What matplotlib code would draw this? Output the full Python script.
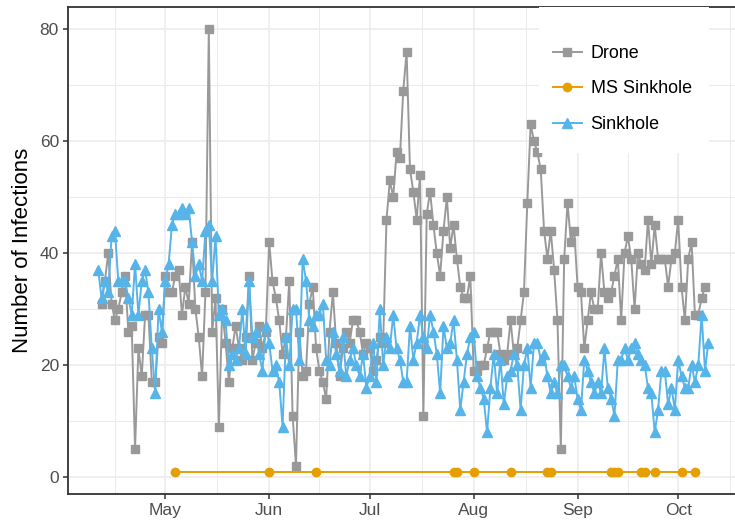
import matplotlib
matplotlib.use('Agg')
import matplotlib.pyplot as plt
import matplotlib.dates as mdates
from matplotlib.patches import Rectangle
import numpy as np
import pandas as pd

plt.rcParams['font.family'] = ['Liberation Sans', 'DejaVu Sans']

############## data ############################################################
start_date = '2019-04-11'

# Sinkhole, one value per day from Apr 11
sinkhole = [37, 32, 35, 33, 43, 44, 35, 35, 35, 32, 29, 38, 29, 35, 37, 33, 23,
            15, 30, 26, 35, 38, 45, 47, 47, 48, 47, 48, 42, 36, 38, 35, 44,
            45, 35, 43, 29, 30, 28, 20, 22, 21, 23, 30, 22, 35, 25, 26, 22, 19,
            27, 24, 19, 20, 17, 9, 25, 20, 30, 30, 21, 39, 35, 28, 27,
            29, 29, 31, 21, 20, 26, 22, 19, 25, 18, 21, 23, 20, 18, 22, 16, 18,
            24, 17, 30, 20, 25, 23, 29, 23, 21, 17, 17, 27, 21, 24, 29, 25,
            23, 29, 26, 22, 15, 27, 23, 24, 28, 21, 12, 17, 22, 25, 26, 18, 16,
            14, 8, 16, 22, 15, 21, 13, 18, 19, 22, 20, 12, 20, 23, 16, 24,
            24, 21, 22, 18, 15, 17, 15, 20, 20, 18, 16, 18, 14, 12, 21, 19, 17,
            15, 17, 15, 23, 16, 14, 11, 21, 21, 23, 21, 23, 24, 22, 21,
            20, 16, 15, 8, 12, 19, 19, 13, 16, 12, 21, 18, 16, 16, 20, 17, 20,
            29, 19, 24]

# Drone, same days (no value on the first and last day)
drone = [np.nan,
         31, 35, 40, 31, 28, 30, 33, 36, 26, 27, 5, 23, 18, 29, 29, 17, 17,
         25, 24, 36, 33, 33, 36, 37, 29, 34, 31, 42, 30, 25, 18,
         33, 80, 26, 32, 9, 30, 24, 17, 23, 27, 23, 21, 25, 36, 21, 24, 27,
         23, 26, 42, 35, 32, 28, 22, 25, 35, 11, 2, 26, 18, 19, 31, 34,
         23, 19, 17, 14, 26, 33, 24, 18, 23, 26, 24, 28, 28, 26, 22, 24, 23,
         19, 21, 25, 24, 46, 53, 50, 58, 57, 69, 76, 55, 51, 46, 54,
         11, 47, 51, 45, 40, 36, 44, 50, 41, 45, 39, 34, 32, 32, 36, 19, 19,
         20, 20, 23, 26, 26, 26, 22, 21, 22, 28, 22, 23, 28, 33, 49,
         63, 60, 58, 55, 44, 39, 44, 37, 28, 5, 39, 49, 42, 44, 34, 33, 23,
         28, 33, 30, 30, 40, 33, 32, 33, 36, 39, 28, 40, 43, 39, 30, 40, 38,
         37, 46, 38, 45, 39, 39, 39, 34, 39, 40, 46, 34, 28, 39, 42, 29, 29,
         32, 34,
         np.nan]

# MS Sinkhole, only a few days
ms_dates = ['2019-05-04', '2019-06-01', '2019-06-15', '2019-07-26',
            '2019-07-27', '2019-08-01', '2019-08-12', '2019-08-23',
            '2019-08-24', '2019-09-11', '2019-09-12', '2019-09-13',
            '2019-09-20', '2019-09-21', '2019-09-24', '2019-10-02',
            '2019-10-06']
ms_values = [1] * len(ms_dates)
################################################################################

days = pd.date_range(start_date, periods=len(sinkhole), freq='D')
ms_days = pd.to_datetime(ms_dates)

grey = '#999999'
orange = '#E69F00'
blue = '#56B4E9'

fig = plt.figure(figsize=(7.35, 5.22), dpi=100)
ax = fig.add_axes([68 / 735, 28 / 522, 668 / 735, 487.3 / 522])

ax.plot(days, drone, '-s', color=grey, lw=1.4, ms=6.4, label='Drone', zorder=3)
ax.plot(ms_days, ms_values, '-o', color=orange, lw=1.4, ms=6, label='MS Sinkhole', zorder=3)
ax.plot(days, sinkhole, '-^', color=blue, lw=1.4, ms=7, label='Sinkhole', zorder=4)

# axes limits
ax.set_xlim(pd.Timestamp('2019-04-02'), pd.Timestamp('2019-10-18 06:00'))
ax.set_ylim(-3, 84)

# month ticks and mid-month minor grid
month_starts = pd.date_range('2019-04-01', '2019-11-01', freq='MS')
ax.set_xticks(month_starts[1:-1])
ax.xaxis.set_major_formatter(mdates.DateFormatter('%b'))
mids = [a + (b - a) / 2 for a, b in zip(month_starts[:-1], month_starts[1:])]
ax.set_xticks(mids, minor=True)
ax.set_yticks([0, 20, 40, 60, 80])
ax.set_yticks([10, 30, 50, 70], minor=True)

ax.grid(which='major', color='#ebebeb', lw=1.1, zorder=0)
ax.grid(which='minor', color='#ebebeb', lw=0.7, zorder=0)
ax.set_axisbelow(True)

ax.tick_params(which='major', length=3.5, width=1.1, color='#333333',
               labelcolor='#4d4d4d', labelsize=12.5, pad=3)
ax.tick_params(which='minor', length=0)
for side in ['left', 'bottom', 'top']:
    ax.spines[side].set_color('#333333')
    ax.spines[side].set_linewidth(1.3)
ax.spines['right'].set_visible(False)

ax.set_ylabel('Number of Infections', fontsize=16, color='black', labelpad=5)

# white legend box over the grid
ax.add_patch(Rectangle((0.705, 0.70), 0.255, 0.30, transform=ax.transAxes,
                       facecolor='white', edgecolor='none', zorder=5))
leg = ax.legend(loc='upper left', bbox_to_anchor=(553 / 735, 1 - 45 / 522),
                bbox_transform=fig.transFigure, frameon=False, fontsize=12.9,
                numpoints=1, handlelength=1.6, handletextpad=0.5,
                labelspacing=1.03, borderpad=0, borderaxespad=0)
leg.set_zorder(6)

fig.savefig('out.png', dpi=100)
